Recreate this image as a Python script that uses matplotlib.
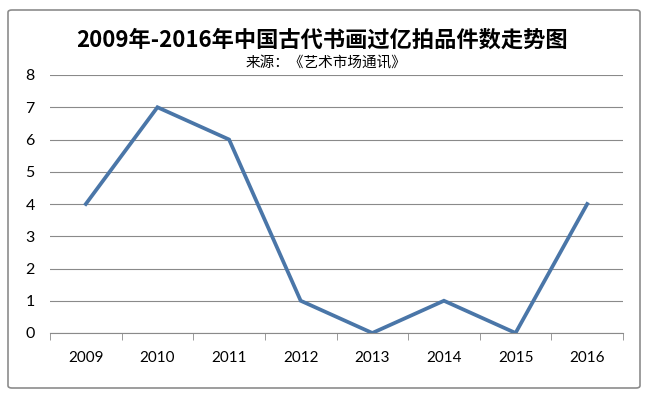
import matplotlib.pyplot as plt
from matplotlib.patches import FancyBboxPatch

plt.rcParams['font.family'] = ['Noto Sans CJK SC', 'DejaVu Sans']

years = ['2009', '2010', '2011', '2012', '2013', '2014', '2015', '2016']
counts = [4, 7, 6, 1, 0, 1, 0, 4]
title = '2009年-2016年中国古代书画过亿拍品件数走势图'
subtitle = '来源：《艺术市场通讯》'

W, H = 649, 399
fig = plt.figure(figsize=(W / 100, H / 100), dpi=100)
fig.patch.set_facecolor('white')

# outer chart frame
frame = FancyBboxPatch((8 / W, 1 - 388 / H), 632 / W, 378 / H,
                       boxstyle='round,pad=0,rounding_size=0.006',
                       transform=fig.transFigure, fill=False,
                       edgecolor='#8c8c8c', linewidth=1.2)
fig.patches.append(frame)

ax = fig.add_axes([50 / W, 1 - 333 / H, 573 / W, 258 / H])
x = list(range(len(years)))
ax.plot(x, counts, color='#4a76a8', linewidth=2.7, solid_joinstyle='miter')

ax.set_xlim(-0.5, len(years) - 0.5)
ax.set_ylim(0, 8)
ax.set_yticks(range(0, 9))
ax.yaxis.grid(True, color='#8a8a8a', linewidth=0.8)
ax.set_axisbelow(True)

ax.set_xticks(x)
ax.set_xticklabels(years)
ax.set_xticks([i - 0.5 for i in range(len(years) + 1)], minor=True)
ax.tick_params(axis='x', which='major', length=0, pad=13, labelsize=11)
ax.tick_params(axis='x', which='minor', length=5, color='#8a8a8a', direction='out')
ax.tick_params(axis='y', length=0, pad=11, labelsize=11.5)
for lab in ax.get_xticklabels() + ax.get_yticklabels():
    lab.set_family(['Lato', 'Noto Sans CJK SC'])

for s in ['top', 'right', 'left']:
    ax.spines[s].set_visible(False)
ax.spines['bottom'].set_color('#8a8a8a')
ax.spines['bottom'].set_linewidth(0.8)

fig.text(322 / W, 1 - 40 / H, title, ha='center', va='center',
         fontsize=16, fontweight='bold')
fig.text(326 / W, 1 - 63 / H, subtitle, ha='center', va='center', fontsize=10.5)

fig.savefig('out.png', dpi=100)
